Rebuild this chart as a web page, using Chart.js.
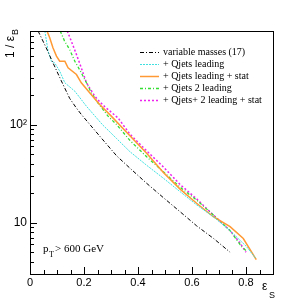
<!DOCTYPE html>
<html>
<head>
<meta charset="utf-8">
<script src="https://cdn.jsdelivr.net/npm/chart.js@4/dist/chart.umd.min.js"></script>
<style>
  html, body { margin: 0; padding: 0; background: #fff; }
  #wrap { width: 304px; height: 305px; }
</style>
</head>
<body>
<div id="wrap"><canvas id="roc" width="304" height="305"></canvas></div>
<script>
// signal efficiency (x) and 1/background efficiency (y)
const varMassEps = [0.030, 0.060, 0.085, 0.116, 0.147, 0.170, 0.189, 0.226, 0.266, 0.321, 0.370, 0.430, 0.494, 0.555, 0.617, 0.680, 0.741];
const varMassRej = [900, 607, 427, 279, 185, 150, 128, 97, 72, 48, 36, 25.5, 18, 13, 9.3, 6.9, 5.0];

const qjLeadEps = [0.055, 0.067, 0.079, 0.091, 0.110, 0.129, 0.166, 0.209, 0.268, 0.321, 0.370, 0.432, 0.494, 0.556, 0.617, 0.679, 0.741, 0.802, 0.837];
const qjLeadRej = [900, 561, 443, 427, 351, 267, 219, 154, 100, 72, 53, 38.5, 28.4, 20.7, 15.2, 11.5, 8.3, 5.7, 4.3];

const qjLeadStatEps = [0.063, 0.073, 0.085, 0.098, 0.110, 0.129, 0.141, 0.172, 0.190, 0.221, 0.258, 0.301, 0.370, 0.432, 0.494, 0.556, 0.617, 0.679, 0.741, 0.790, 0.838];
const qjLeadStatRej = [900, 767, 607, 499, 443, 443, 379, 324, 267, 211, 160, 122, 77, 51, 32.5, 22, 15.8, 11.5, 9.1, 6.9, 4.2];

const qj2LeadEps = [0.112, 0.128, 0.147, 0.166, 0.190, 0.209, 0.227, 0.252, 0.289, 0.321, 0.370, 0.432, 0.494, 0.556, 0.617, 0.679, 0.741, 0.784, 0.800];
const qj2LeadRej = [900, 710, 582, 443, 337, 267, 211, 166, 122, 100, 69, 47, 33, 23, 17, 12, 8.3, 5.7, 5.2];

const qj2LeadStatEps = [0.138, 0.153, 0.172, 0.190, 0.209, 0.240, 0.259, 0.277, 0.326, 0.370, 0.432, 0.494, 0.556, 0.617, 0.679, 0.741, 0.778, 0.800];
const qj2LeadStatRej = [900, 710, 518, 379, 267, 195, 170, 152, 117, 80, 54, 37, 24.5, 17.5, 12, 8.3, 6.2, 5.0];

const seriesNames = ['variable masses (17)', '+ Qjets leading', '+ Qjets leading + stat', '+ Qjets 2 leading', '+ Qjets+ 2 leading + stat'];
const xTickLabels = ['0', '0.2', '0.4', '0.6', '0.8'];
const yTickValues = [10, 100];
const yTickLabels = ['10', '10\u00b2'];

const pts = (xs, ys) => xs.map((x, i) => ({ x: x, y: ys[i] }));

function line(label, xs, ys, color, dash, width) {
  return {
    label: label,
    data: pts(xs, ys),
    borderColor: color,
    backgroundColor: color,
    borderDash: dash,
    borderWidth: width,
    pointRadius: 0,
    tension: 0,
    fill: false
  };
}

// frame, inward ticks, legend and the axis titles (ROOT look)
const rootStyle = {
  id: 'rootStyle',
  afterDraw(chart) {
    const ctx = chart.ctx;
    const a = chart.chartArea;
    const xs = chart.scales.x, ys = chart.scales.y;
    ctx.save();
    ctx.strokeStyle = '#000';
    ctx.lineWidth = 1;
    ctx.setLineDash([]);
    ctx.strokeRect(Math.round(a.left) + 0.5, Math.round(a.top) + 0.5, Math.round(a.right - a.left), Math.round(a.bottom - a.top));

    ctx.beginPath();
    for (let i = 0; i <= 18; i++) {
      const v = i * 0.05;
      const px = Math.round(xs.getPixelForValue(v)) + 0.5;
      const len = (i % 4 === 0) ? 7 : 4;
      ctx.moveTo(px, a.bottom);
      ctx.lineTo(px, a.bottom - len);
    }
    [1, 10, 100].forEach(d => {
      for (let m = 1; m <= 9; m++) {
        const v = m * d;
        if (v < ys.min || v > ys.max) continue;
        const py = Math.round(ys.getPixelForValue(v)) + 0.5;
        const len = (m === 1) ? 7 : 4;
        ctx.moveTo(a.left, py);
        ctx.lineTo(a.left + len, py);
      }
    });
    ctx.stroke();

    // legend
    ctx.font = '10px "Liberation Serif", serif';
    ctx.textBaseline = 'middle';
    ctx.textAlign = 'left';
    chart.data.datasets.forEach((ds, i) => {
      const y = Math.round(51.5 + i * 12.2) + 0.5;
      ctx.strokeStyle = ds.borderColor;
      ctx.lineWidth = ds.borderWidth;
      ctx.setLineDash(ds.borderDash || []);
      ctx.beginPath();
      ctx.moveTo(140, y);
      ctx.lineTo(159, y);
      ctx.stroke();
      ctx.fillStyle = '#000';
      ctx.fillText(ds.label, 163, y);
    });
    ctx.setLineDash([]);

    // pT cut
    ctx.fillStyle = '#000';
    ctx.textBaseline = 'alphabetic';
    ctx.font = '11px "Liberation Serif", serif';
    ctx.fillText('p', 43, 252);
    ctx.font = '8px "Liberation Serif", serif';
    ctx.fillText('T', 49, 257);
    ctx.font = '11px "Liberation Serif", serif';
    ctx.fillText('> 600 GeV', 55, 252);

    // x title
    ctx.font = '12px "Liberation Sans", Arial, sans-serif';
    ctx.fillText('\u03b5', 262, 290);
    ctx.font = '9px "Liberation Sans", Arial, sans-serif';
    ctx.fillText('S', 269, 298);

    // y title, rotated
    ctx.translate(14, 58);
    ctx.rotate(-Math.PI / 2);
    ctx.font = '12px "Liberation Sans", Arial, sans-serif';
    const t = '1 / \u03b5';
    ctx.fillText(t, 0, 0);
    const w = ctx.measureText(t).width;
    ctx.font = '9px "Liberation Sans", Arial, sans-serif';
    ctx.fillText('B', w + 1, 4);
    ctx.restore();
  }
};

new Chart(document.getElementById('roc'), {
  type: 'line',
  data: {
    datasets: [
      line(seriesNames[0], varMassEps, varMassRej, '#000000', [4, 2, 1, 2], 1),
      line(seriesNames[1], qjLeadEps, qjLeadRej, '#40e0e0', [2, 1], 1),
      line(seriesNames[2], qjLeadStatEps, qjLeadStatRej, '#ff9933', [], 1.5),
      line(seriesNames[3], qj2LeadEps, qj2LeadRej, '#33dd33', [3, 2, 1, 2], 1.3),
      line(seriesNames[4], qj2LeadStatEps, qj2LeadStatRej, '#ee22ee', [2, 2], 1.5)
    ]
  },
  options: {
    responsive: false,
    animation: false,
    devicePixelRatio: 1,
    layout: { padding: { left: 0, top: 31, right: 31, bottom: 0 } },
    plugins: { legend: { display: false }, tooltip: { enabled: false } },
    scales: {
      x: {
        type: 'linear',
        min: 0,
        max: 0.9,
        grid: { display: false, drawTicks: false },
        border: { display: false },
        afterFit: s => { s.height = 31; },
        ticks: {
          stepSize: 0.2,
          includeBounds: false,
          padding: 2,
          color: '#000',
          font: { family: '"Liberation Sans", Arial, sans-serif', size: 11 },
          callback: (v) => xTickLabels[Math.round(v / 0.2)] ?? ''
        }
      },
      y: {
        type: 'logarithmic',
        min: 3,
        max: 900,
        grid: { display: false, drawTicks: false },
        border: { display: false },
        afterFit: s => { s.width = 30; },
        afterBuildTicks: s => { s.ticks = yTickValues.map(v => ({ value: v })); },
        ticks: {
          autoSkip: false,
          padding: 3,
          color: '#000',
          font: { family: '"Liberation Sans", Arial, sans-serif', size: 12 },
          callback: (v) => { const i = yTickValues.indexOf(v); return i >= 0 ? yTickLabels[i] : ''; }
        }
      }
    }
  },
  plugins: [rootStyle]
});
</script>
</body>
</html>
